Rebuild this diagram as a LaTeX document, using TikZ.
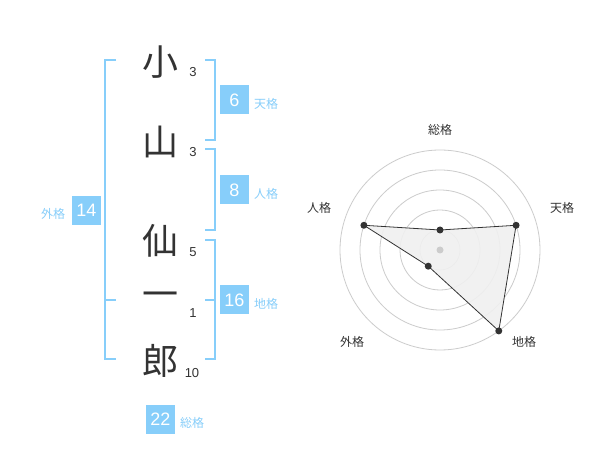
\documentclass[tikz,border=0pt]{standalone}
\usepackage{fontspec}
\usetikzlibrary{calc}
\setmainfont{Liberation Sans}
\newfontfamily\jp{Noto Sans CJK JP}
\definecolor{sky}{HTML}{87CEFA}
\definecolor{ink}{HTML}{333333}
\definecolor{ring}{HTML}{CCCCCC}
\definecolor{area}{HTML}{F0F0F0}
\begin{document}
\begin{tikzpicture}[x=1pt,y=-1pt,
  kanji/.style={inner sep=0pt,text=ink,font=\jp\fontsize{36}{36}\selectfont},
  strokes/.style={inner sep=0pt,text=ink,font=\fontsize{13}{13}\selectfont},
  numbox/.style={fill=sky,text=white,minimum size=29pt,inner sep=0pt,font=\fontsize{18}{18}\selectfont},
  kaku/.style={inner sep=0pt,text=sky,font=\jp\fontsize{12}{12}\selectfont},
  axislabel/.style={inner sep=0pt,text=ink,font=\jp\fontsize{12}{12}\selectfont},
  brace/.style={draw=sky,line width=2pt},
  ringline/.style={draw=ring,line width=0.8pt},
  dot/.style={circle,fill=ink,inner sep=0pt,minimum size=7pt}]
\useasboundingbox (0,0) rectangle (600,470);
\fill[white] (0,0) rectangle (600,470);

% name characters
\node[kanji] (k1) at (160,62) {小};
\node[kanji] (k2) at (160,142) {山};
\node[kanji] (k3) at (160,241) {仙};
\node[kanji] (k4) at (160,300) {一};
\node[kanji] (k5) at (160,361) {郎};

\node[strokes] (s1) at (193,72) {3};
\node[strokes] (s2) at (193,152) {3};
\node[strokes] (s3) at (193,252) {5};
\node[strokes] (s4) at (193,313) {1};
\node[strokes] (s5) at (192,373) {10};

% brackets
\coordinate (lt) at (116,60);
\coordinate (lb) at (116,359);
\coordinate (lm) at (116,300);
\draw[brace] (lt) -- (105,60) -- (105,359) -- (lb);
\draw[brace] (105,300) -- (lm);

\draw[brace] (205,60) -- (215,60) -- (215,140) -- (205,140);
\draw[brace] (205,149) -- (215,149) -- (215,230) -- (205,230);
\draw[brace] (205,240) -- (215,240) -- (215,359) -- (205,359);
\draw[brace] (205,300) -- (215,300);

% scores
\node[numbox] (b6) at (234.5,100) {6};
\node[kaku] (l6) at (266,104) {天格};
\node[numbox] (b8) at (234.5,190) {8};
\node[kaku] (l8) at (266,194) {人格};
\node[numbox] (b16) at (234.5,300) {16};
\node[kaku] (l16) at (266,304) {地格};
\node[numbox] (b14) at (86.5,210.5) {14};
\node[kaku] (l14) at (53,214) {外格};
\node[numbox] (b22) at (160.5,419) {22};
\node[kaku] (l22) at (192,423) {総格};

% radar chart
\coordinate (c) at (440,250);
\foreach \r in {20,40,60,80,100}
  \draw[ringline] (c) circle[radius=\r];

\coordinate (p1) at ($(c)+(0,-20)$);
\coordinate (p2) at ($(c)+({80*cos(18)},{-80*sin(18)})$);
\coordinate (p3) at ($(c)+({100*cos(54)},{100*sin(54)})$);
\coordinate (p4) at ($(c)+({-20*cos(54)},{20*sin(54)})$);
\coordinate (p5) at ($(c)+({-80*cos(18)},{-80*sin(18)})$);

\filldraw[fill=area,fill opacity=0.9,draw=ink,line width=0.8pt] (p1) -- (p2) -- (p3) -- (p4) -- (p5) -- cycle;
\fill[ring] (c) circle[radius=3.5];

\node[dot] (d1) at (p1) {};
\node[dot] (d2) at (p2) {};
\node[dot] (d3) at (p3) {};
\node[dot] (d4) at (p4) {};
\node[dot] (d5) at (p5) {};

\node[axislabel] (a1) at (440,130) {総格};
\node[axislabel] (a2) at (562,208) {天格};
\node[axislabel] (a3) at (524,342) {地格};
\node[axislabel] (a4) at (352,342) {外格};
\node[axislabel] (a5) at (319,208) {人格};
\end{tikzpicture}
\end{document}
